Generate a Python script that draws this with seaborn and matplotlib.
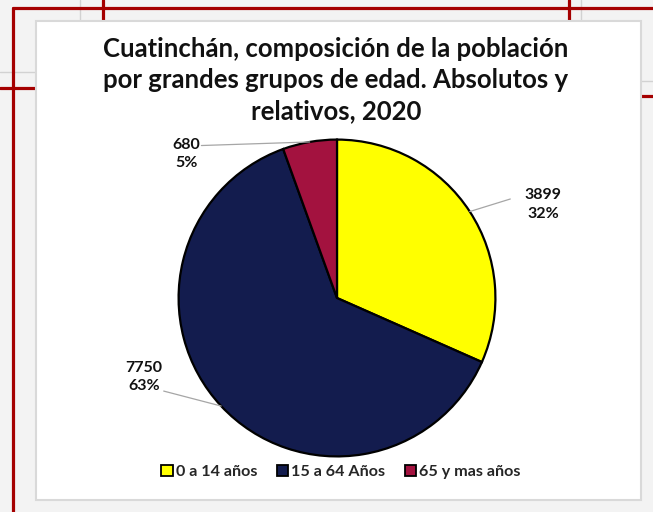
import numpy as np
import matplotlib
matplotlib.use("Agg")
import matplotlib.pyplot as plt
import seaborn as sns
from matplotlib.lines import Line2D
from matplotlib.patches import Rectangle, Patch

sns.set_theme(style="white")
plt.rcParams['font.family'] = ['Lato', 'DejaVu Sans']

# Datos
grupos = ['0 a 14 años', '15 a 64 Años', '65 y mas años']
poblacion = [3899, 7750, 680]
porcentajes = ['32%', '63%', '5%']
colores = ['#FFFF00', '#131C4E', '#A3123F']

titulo = 'Cuatinchán, composición de la población\npor grandes grupos de edad. Absolutos y\nrelativos, 2020'

W, H = 653, 512
fig = plt.figure(figsize=(W / 100, H / 100), dpi=100, facecolor='#f3f3f3')


def px(x, y):
    return x / W, 1 - y / H


def linea(x0, y0, x1, y1, color, lw):
    a = px(x0, y0)
    b = px(x1, y1)
    fig.add_artist(Line2D([a[0], b[0]], [a[1], b[1]], transform=fig.transFigure,
                          color=color, lw=lw, zorder=0))


# fondo de la diapositiva
rojo = '#A50000'
gris = '#d2d2d2'
linea(80, 0, 80, 21, gris, 1)
linea(0, 72, 36, 72, gris, 1)
linea(581, 0, 581, 21, gris, 1)
linea(641, 81, 653, 81, gris, 1)
linea(13, 8, 653, 8, rojo, 2.3)
linea(13, 8, 13, 512, rojo, 2.3)
linea(103, 0, 103, 21, rojo, 2.3)
linea(569, 0, 569, 21, rojo, 2.3)
linea(0, 88, 36, 88, rojo, 2.3)
linea(641, 96, 653, 96, rojo, 2.3)

# caja del grafico
x0, y0 = px(36, 500)
x1, y1 = px(641, 21)
fig.add_artist(Rectangle((x0, y0), x1 - x0, y1 - y0, transform=fig.transFigure,
                         facecolor='white', edgecolor='#d9d9d9', lw=1.5, zorder=1))

# titulo
fig.text(336 / W, 1 - 80 / H, titulo, ha='center', va='center', fontsize=18.5,
         fontweight='bold', color='#111111', linespacing=1.36, zorder=3)

# pastel
R = 160
cx, cy = 337, 298
ax = fig.add_axes([(cx - R) / W, 1 - (cy + R) / H, 2 * R / W, 2 * R / H])
ax.set_zorder(2)
wedges, _ = ax.pie(poblacion, colors=colores, startangle=90, counterclock=False,
                   wedgeprops=dict(edgecolor='black', linewidth=1.6))
ax.set_xlim(-1.01, 1.01)
ax.set_ylim(-1.01, 1.01)
ax.axis('off')

# etiquetas de datos (posicion en unidades del radio)
pos_texto = [(1.30, 0.59), (-1.22, -0.50), (-0.95, 0.91)]
pos_linea = [(1.094, 0.625), (-1.094, -0.5875), (-0.856, 0.9625)]
for w, val, pct, pt, pl in zip(wedges, poblacion, porcentajes, pos_texto, pos_linea):
    ang = np.deg2rad((w.theta1 + w.theta2) / 2)
    ex, ey = np.cos(ang), np.sin(ang)
    ax.plot([ex, pl[0]], [ey, pl[1]], color='#a6a6a6', lw=0.9, clip_on=False, zorder=1)
    ax.text(pt[0], pt[1], f'{val}\n{pct}', ha='center', va='center', fontsize=11.5,
            fontweight='bold', color='#111111', linespacing=1.4, clip_on=False)

# leyenda
handles = [Patch(facecolor=c, edgecolor='black', lw=1.3) for c in colores]
leg = fig.legend(handles, grupos, loc='center', bbox_to_anchor=px(341, 472), ncol=3,
                 frameon=False, handlelength=0.7, handleheight=0.7, handletextpad=0.2,
                 columnspacing=1.2, prop=dict(size=11.6, weight='bold'))
leg.set_zorder(3)

fig.savefig('out.png', dpi=100, facecolor=fig.get_facecolor())
